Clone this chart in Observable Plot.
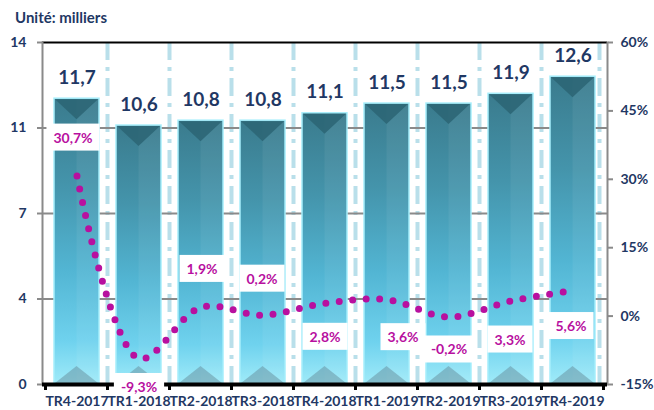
<!DOCTYPE html>
<html>
<head>
<meta charset="utf-8">
<script src="https://cdn.jsdelivr.net/npm/d3@7"></script>
<script src="https://cdn.jsdelivr.net/npm/@observablehq/plot@0.6"></script>
<style>
  html, body { margin: 0; padding: 0; background: #fff; }
  #wrap { position: relative; width: 654px; height: 410px; font-family: Lato, "Open Sans", sans-serif; }
  #title { position: absolute; left: 15px; top: 8px; font-size: 15px; font-weight: 700; color: #1f3864; }
</style>
</head>
<body>
<div id="wrap"><div id="title">Unité: milliers</div></div>
<script>
// ---- data ----
const quarters = ["TR4-2017","TR1-2018","TR2-2018","TR3-2018","TR4-2018","TR1-2019","TR2-2019","TR3-2019","TR4-2019"];
const effectifs = [11.7, 10.6, 10.8, 10.8, 11.1, 11.5, 11.5, 11.9, 12.6];
const variations = [30.7, -9.3, 1.9, 0.2, 2.8, 3.6, -0.2, 3.3, 5.6];
const leftTicks = [0, 3.5, 7, 10.5, 14];
const leftTickLabels = ["0", "4", "7", "11", "14"];
const rightTicks = [-15, 0, 15, 30, 45, 60];
const rightTickLabels = ["-15%", "0%", "15%", "30%", "45%", "60%"];

// ---- layout / style ----
const labelOffsets = [[-4,-38],[0,29],[1,-38],[-1,-36],[0,34],[16,38],[0,33],[-1,39],[-2,36]];
const navy = "#1f3864";
const magenta = "#b8109f";
const pMin = -15, pMax = 60, yMax = 14;
const pToY = p => (p - pMin) / (pMax - pMin) * yMax;
const yToP = y => y / yMax * (pMax - pMin) + pMin;
const fmt = v => v.toFixed(1).replace(".", ",");

const data = quarters.map((q, i) => ({q, v: effectifs[i], p: variations[i]}));

const pctMarks = data.map((d, i) => Plot.text([d], {
  x: "q", y: e => pToY(e.p), text: e => fmt(e.p) + "%",
  dx: labelOffsets[i][0], dy: labelOffsets[i][1],
  fontSize: 14, fontWeight: "bold", fill: magenta, className: "pct"
}));

const chart = Plot.plot({
  width: 654, height: 410,
  marginTop: 42, marginBottom: 26, marginLeft: 42, marginRight: 47,
  style: {fontFamily: "Lato, 'Open Sans', sans-serif", background: "transparent", overflow: "visible"},
  x: {domain: quarters, paddingInner: 0.28, paddingOuter: 0.14, label: null},
  y: {domain: [0, yMax], label: null},
  marks: [
    Plot.ruleY([3.5, 7, 10.5], {stroke: "#8a8a8a", strokeWidth: 2}),
    Plot.ruleY([14], {stroke: "#000", strokeWidth: 2}),
    Plot.frame({anchor: "left", stroke: "#8a8a8a", strokeWidth: 2}),
    Plot.frame({anchor: "right", stroke: "#8a8a8a", strokeWidth: 2}),
    Plot.barY(data, {x: "q", y: "v", fill: "url(#barGrad)", stroke: "#a6eefb", strokeWidth: 1.5, className: "bars"}),
    Plot.line(data, {x: "q", y: d => pToY(d.p), curve: "catmull-rom", stroke: magenta,
      strokeWidth: 7, strokeDasharray: "0 13.5", strokeLinecap: "round"}),
    Plot.text(data, {x: "q", y: "v", text: d => fmt(d.v), lineAnchor: "bottom", dy: -15,
      fontSize: 19, fontWeight: "bold", fill: navy}),
    Plot.ruleY([0], {stroke: "#000", strokeWidth: 4}),
    ...pctMarks,
    Plot.axisY(leftTicks, {anchor: "left", tickSize: 5, tickPadding: 11, stroke: "#8a8a8a", strokeWidth: 2,
      fill: navy, fontSize: 14, fontWeight: "bold", label: null,
      tickFormat: d => leftTickLabels[leftTicks.indexOf(d)]}),
    Plot.axisY(rightTicks.map(pToY), {anchor: "right", tickSize: 5, tickPadding: 8, stroke: "#8a8a8a", strokeWidth: 2,
      fill: navy, fontSize: 14, fontWeight: "bold", label: null,
      tickFormat: d => rightTickLabels[rightTicks.indexOf(Math.round(yToP(d)))]}),
    Plot.axisX({anchor: "bottom", tickSize: 0, tickPadding: 12, fill: navy, fontSize: 14, fontWeight: "bold", label: null})
  ]
});

document.getElementById("wrap").appendChild(chart);

// ---- decorations derived from the rendered scales/marks ----
const svg = d3.select(chart.tagName.toLowerCase() === "svg" ? chart : chart.querySelector("svg"));
const ys = chart.scale("y");
const yTop = ys.apply(yMax), yBot = ys.apply(0);

const defs = svg.insert("defs", ":first-child");
const g = defs.append("linearGradient").attr("id", "barGrad").attr("x1", 0).attr("y1", 0).attr("x2", 0).attr("y2", 1);
[[0, "#3a7b8d"], [0.3, "#4494ab"], [0.6, "#52b5d3"], [0.85, "#6fd2ee"], [1, "#a0ebf9"]]
  .forEach(([o, c]) => g.append("stop").attr("offset", o).attr("stop-color", c));

const rects = svg.selectAll("g.bars rect").nodes();
const info = rects.map(r => ({
  x: +r.getAttribute("x"), y: +r.getAttribute("y"),
  w: +r.getAttribute("width"), h: +r.getAttribute("height"), parent: r.parentNode
}));
const centers = info.map(b => b.x + b.w / 2);
const step = centers[1] - centers[0];

// vertical dash-dot separators (behind everything)
const sep = svg.insert("g", "defs + *");
for (let k = 1; k <= centers.length; k++) {
  let xb = centers[0] - step / 2 + k * step;
  if (k === centers.length) xb -= 4;
  sep.append("line").attr("x1", xb).attr("x2", xb).attr("y1", yTop).attr("y2", yBot)
    .attr("stroke", "#b9dfea").attr("stroke-width", 4).attr("stroke-dasharray", "18 7 4 7");
}

// bar details
info.forEach(b => {
  const p = d3.select(b.parent);
  const cx = b.x + b.w / 2;
  p.append("rect").attr("x", cx).attr("y", b.y + 1).attr("width", b.w / 2 - 1).attr("height", b.h - 2)
    .attr("fill", "#ffffff").attr("fill-opacity", 0.06).attr("stroke", "none");
  p.append("polygon").attr("points", `${b.x+1},${b.y+1} ${b.x+b.w-1},${b.y+1} ${cx},${b.y+21}`)
    .attr("fill", "#2c6676").attr("fill-opacity", 0.9).attr("stroke", "none");
  const yb = b.y + b.h;
  p.append("polygon").attr("points", `${b.x+1},${yb-1} ${b.x+b.w-1},${yb-1} ${cx},${yb-18}`)
    .attr("fill", "#6a96a4").attr("fill-opacity", 0.55).attr("stroke", "none");
});

// bottom axis ticks at band boundaries
const tk = svg.append("g");
for (let k = 0; k <= centers.length; k++) {
  const xb = centers[0] - step / 2 + k * step;
  tk.append("line").attr("x1", xb).attr("x2", xb).attr("y1", yBot).attr("y2", yBot + 6)
    .attr("stroke", "#000").attr("stroke-width", 3);
}

// white boxes behind percentage labels
svg.selectAll("g.pct text").each(function() {
  const bb = this.getBBox();
  const r = document.createElementNS("http://www.w3.org/2000/svg", "rect");
  r.setAttribute("x", bb.x - 7); r.setAttribute("y", bb.y - 5);
  r.setAttribute("width", bb.width + 14); r.setAttribute("height", bb.height + 10);
  r.setAttribute("fill", "#fff");
  const t = this.getAttribute("transform"); if (t) r.setAttribute("transform", t);
  this.parentNode.insertBefore(r, this);
});
</script>
</body>
</html>
